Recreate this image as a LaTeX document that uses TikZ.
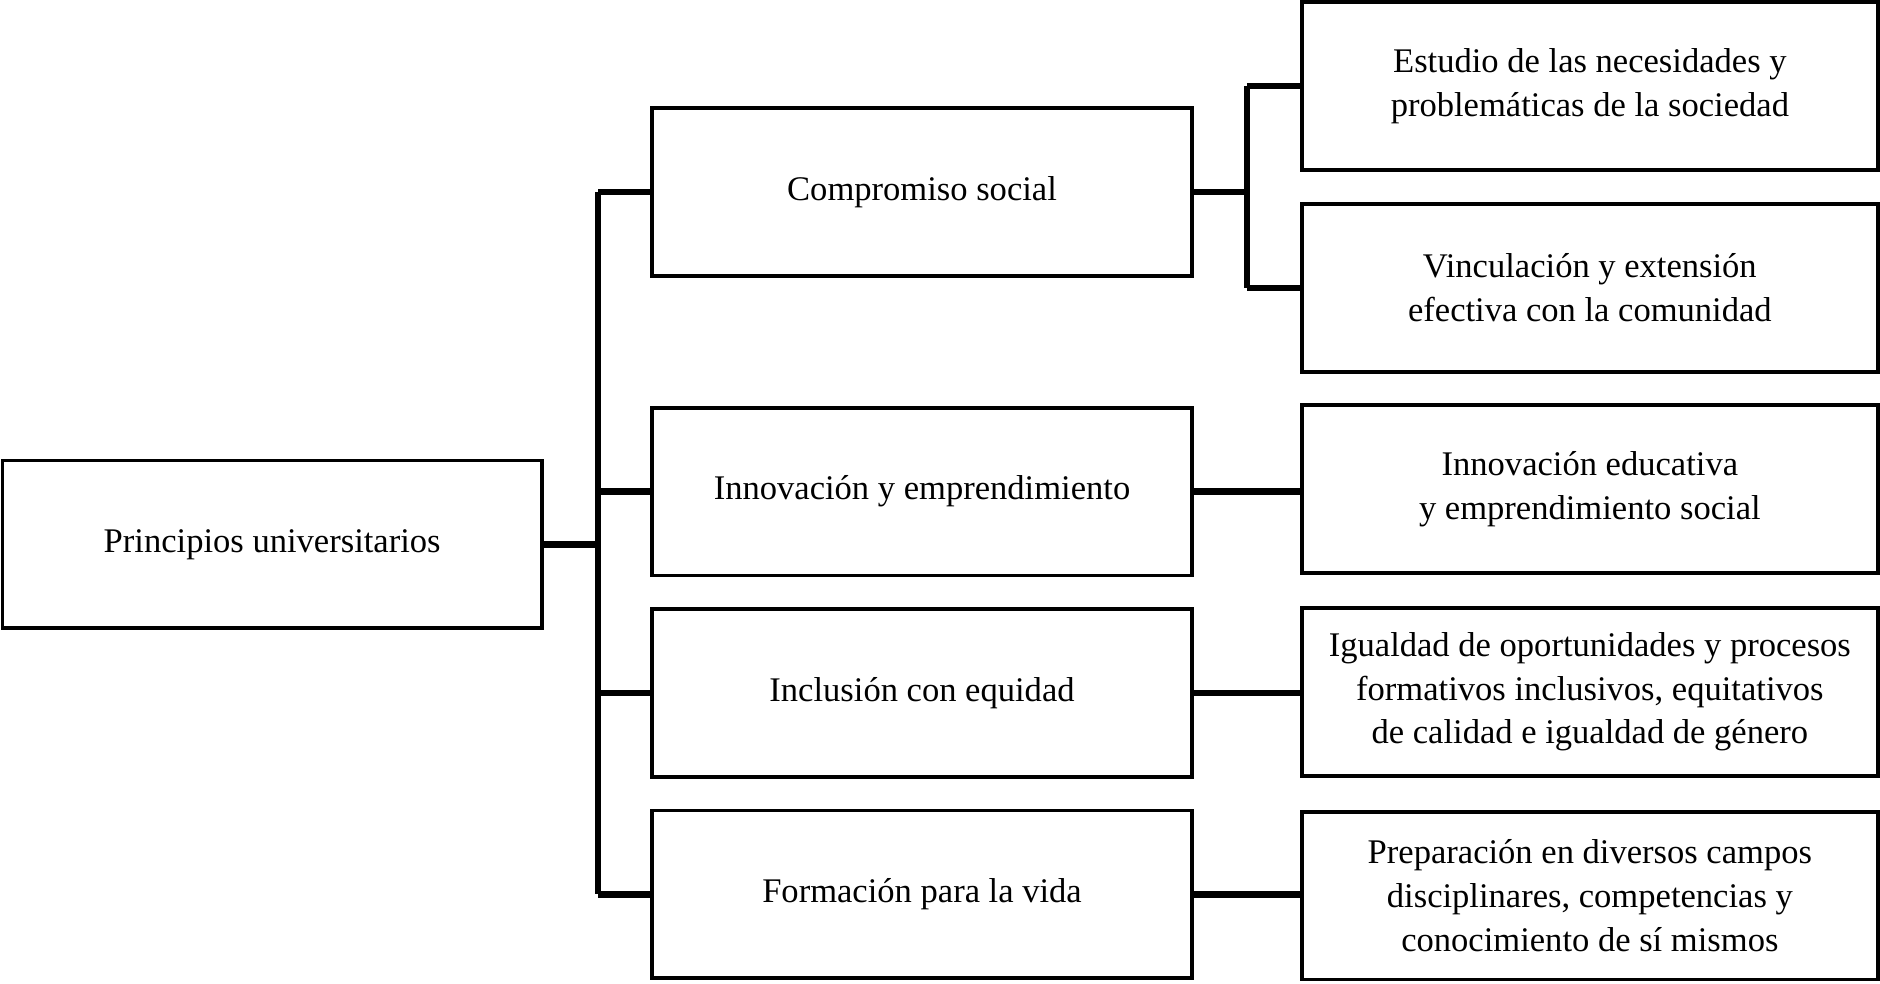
\documentclass[tikz,border=0pt]{standalone}
\usepackage{fontspec}
\setmainfont{Liberation Serif}
\begin{document}
\begin{tikzpicture}[
 box/.style ={draw=black,line width=.9pt,align=center,inner sep=1pt,font=\fontsize{8.2}{10.4}\selectfont},
 mid/.style ={box,minimum width=4.5cm,minimum height=1.4cm},
 leaf/.style ={box,minimum width=4.8cm,minimum height=1.4cm},
 link/.style ={-,line width=1.5pt,draw=black}
 ]
\useasboundingbox (0,0) rectangle (15.68,-8.2);
%root
\node[box,minimum width=4.5cm,minimum height=1.4cm] (root) at (2.27,-4.54) {Principios universitarios};
%middle column
\node[mid] (comp) at (7.69,-1.6) {Compromiso social};
\node[mid] (inno) at (7.69,-4.1) {Innovación y emprendimiento};
\node[mid] (incl) at (7.69,-5.78) {Inclusión con equidad};
\node[mid] (form) at (7.69,-7.46) {Formación para la vida};
%right column
\node[leaf] (estu) at (13.26,-.72) {Estudio de las necesidades y\\problemáticas de la sociedad};
\node[leaf] (vinc) at (13.26,-2.4) {Vinculación y extensión\\efectiva con la comunidad};
\node[leaf] (ined) at (13.26,-4.08) {Innovación educativa\\y emprendimiento social};
\node[leaf] (igua) at (13.26,-5.77) {Igualdad de oportunidades y procesos\\formativos inclusivos, equitativos\\de calidad e igualdad de género};
\node[leaf] (prep) at (13.26,-7.47) {Preparación en diversos campos\\disciplinares, competencias y\\conocimiento de sí mismos};
%trunk
\coordinate (tr) at (4.99,0);
\draw[link] (root.east) -- (root.east -| tr);
\draw[link] (comp.west -| tr) -- (form.west -| tr);
\foreach \n in {comp,inno,incl,form}
  \draw[link] (\n.west -| tr) -- (\n.west);
%fork
\coordinate (fk) at (10.4,0);
\draw[link] (comp.east) -- (comp.east -| fk);
\draw[link] (estu.west -| fk) -- (vinc.west -| fk);
\draw[link] (estu.west -| fk) -- (estu.west);
\draw[link] (vinc.west -| fk) -- (vinc.west);
\draw[link] (inno.east) -- (inno.east -| ined.west);
\draw[link] (incl.east) -- (incl.east -| igua.west);
\draw[link] (form.east) -- (form.east -| prep.west);
\end{tikzpicture}
\end{document}
